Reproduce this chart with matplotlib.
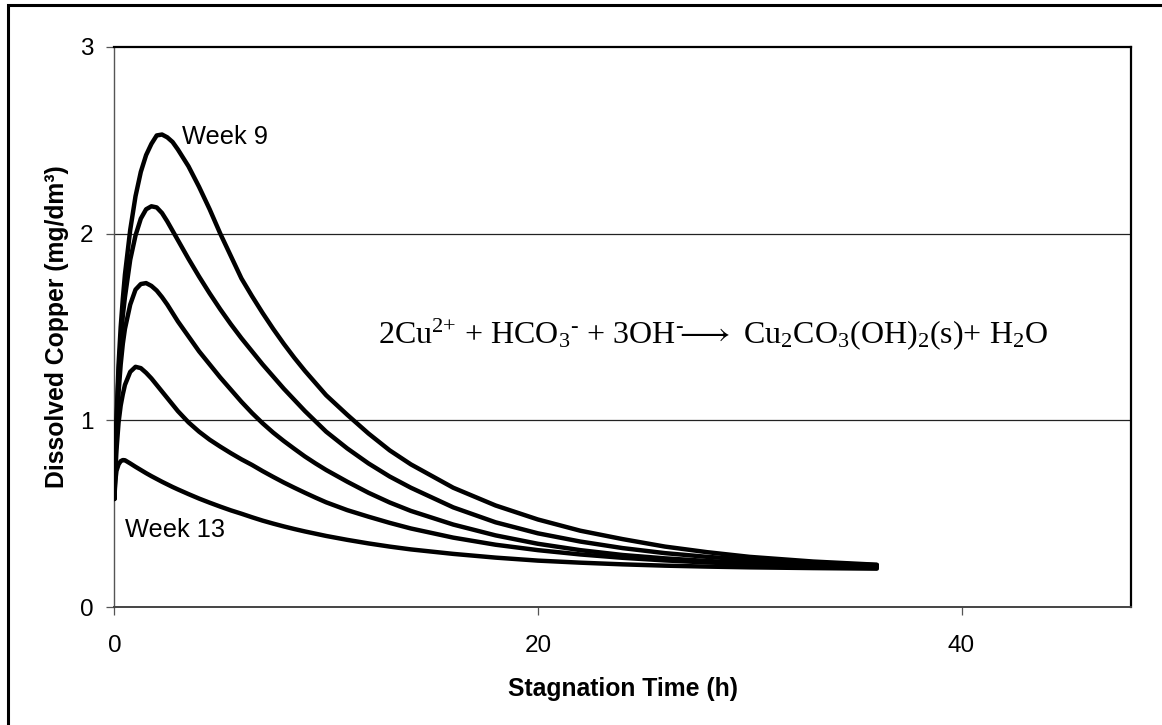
import matplotlib
matplotlib.use('Agg')
import matplotlib.pyplot as plt
from matplotlib.patches import Rectangle

plt.rcParams['font.family'] = ['Liberation Sans', 'DejaVu Sans']
plt.rcParams['mathtext.fontset'] = 'custom'
plt.rcParams['mathtext.rm'] = 'Liberation Serif'
plt.rcParams['mathtext.it'] = 'Liberation Serif'

# stagnation time (h) and dissolved copper (mg/dm3)
t = [0, 0.05, 0.1, 0.2, 0.3, 0.4, 0.5, 0.75, 1, 1.25, 1.5, 1.75, 2, 2.25, 2.5,
     2.75, 3, 3.5, 4, 4.5, 5, 5.5, 6, 6.5, 7, 7.5, 8, 8.5, 9, 9.5, 10,
     11, 12, 13, 14, 16, 18, 20, 22, 24, 26, 28, 30, 33, 36]
week9 = [0.58, 0.8, 1.0, 1.3, 1.5, 1.65, 1.78, 2.02, 2.2, 2.33, 2.42, 2.48, 2.525,
         2.53, 2.515, 2.49, 2.45, 2.36, 2.25, 2.13, 2.0, 1.88, 1.76, 1.665, 1.575,
         1.49, 1.41, 1.335, 1.265, 1.2, 1.135, 1.03, 0.93, 0.84, 0.765, 0.64,
         0.545, 0.47, 0.41, 0.365, 0.325, 0.295, 0.27, 0.245, 0.228]
week10 = [0.58, 0.78, 0.97, 1.25, 1.43, 1.56, 1.66, 1.86, 1.99, 2.08, 2.13, 2.146,
          2.14, 2.11, 2.065, 2.015, 1.965, 1.865, 1.77, 1.68, 1.595, 1.515, 1.44,
          1.37, 1.30, 1.235, 1.17, 1.11, 1.05, 0.995, 0.94, 0.85, 0.77, 0.70, 0.64,
          0.535, 0.455, 0.396, 0.352, 0.317, 0.29, 0.27, 0.255, 0.238, 0.226]
week11 = [0.58, 0.76, 0.93, 1.15, 1.3, 1.41, 1.49, 1.62, 1.70, 1.73, 1.735, 1.72,
          1.695, 1.66, 1.62, 1.575, 1.53, 1.45, 1.37, 1.30, 1.23, 1.165, 1.10,
          1.04, 0.985, 0.935, 0.89, 0.848, 0.807, 0.77, 0.735, 0.672, 0.613, 0.561,
          0.516, 0.443, 0.385, 0.34, 0.306, 0.28, 0.262, 0.248, 0.237, 0.225, 0.217]
week12 = [0.58, 0.72, 0.84, 0.99, 1.08, 1.14, 1.19, 1.26, 1.287, 1.28, 1.255, 1.225,
          1.19, 1.155, 1.12, 1.085, 1.05, 0.99, 0.94, 0.897, 0.86, 0.825, 0.792,
          0.762, 0.729, 0.698, 0.668, 0.64, 0.613, 0.587, 0.562, 0.52, 0.485, 0.452,
          0.422, 0.373, 0.335, 0.306, 0.283, 0.265, 0.251, 0.24, 0.232, 0.222, 0.216]
week13 = [0.58, 0.68, 0.73, 0.765, 0.782, 0.788, 0.787, 0.77, 0.752, 0.735, 0.718,
          0.702, 0.687, 0.672, 0.658, 0.644, 0.631, 0.606, 0.582, 0.56, 0.539, 0.519,
          0.501, 0.482, 0.464, 0.448, 0.433, 0.419, 0.406, 0.394, 0.382, 0.361,
          0.342, 0.325, 0.31, 0.286, 0.266, 0.25, 0.239, 0.23, 0.223, 0.218, 0.214,
          0.21, 0.207]
curves = [week9, week10, week11, week12, week13]

fig = plt.figure(figsize=(11.62, 7.25), dpi=100)
ax = fig.add_axes([0.0984, 0.1623, 0.8749, 0.7733])

for y in curves:
    ax.plot(t, y, color='black', linewidth=3.2, solid_capstyle='round',
            solid_joinstyle='round', zorder=3)

ax.set_xlim(0, 48)
ax.set_ylim(0, 3)
ax.set_xticks([0, 20, 40])
ax.set_yticks([0, 1, 2, 3])

# gridlines at 1 and 2 only
for g in [1, 2]:
    ax.axhline(g, color='#222222', linewidth=0.9, zorder=1)

ax.spines['top'].set_color('black')
ax.spines['top'].set_linewidth(1.6)
ax.spines['right'].set_color('black')
ax.spines['right'].set_linewidth(1.6)
ax.spines['left'].set_color('#555555')
ax.spines['left'].set_linewidth(1.0)
ax.spines['bottom'].set_color('#444444')
ax.spines['bottom'].set_linewidth(1.4)

ax.tick_params(axis='both', direction='out', length=6, width=0.9,
               color='#555555', labelsize=17.5)
ax.tick_params(axis='y', pad=9)
ax.tick_params(axis='x', pad=14)

ax.set_xlabel('Stagnation Time (h)', fontsize=17.8, fontweight='bold', labelpad=14)
ax.set_ylabel('Dissolved Copper (mg/dm³)', fontsize=17.8, fontweight='bold', labelpad=8)

ax.text(3.2, 2.515, 'Week 9', fontsize=18.3, ha='left', va='center')
ax.text(0.5, 0.413, 'Week 13', fontsize=18.3, ha='left', va='center')

eq = (r'2Cu$^{2{+}}$ + HCO$_3$$^{\text{-}}$ + 3OH$^{\text{-}}\!\!\longrightarrow$ '
      r'Cu$_2$CO$_3$(OH)$_2$(s)+ H$_2$O')
ax.text(12.45, 1.414, eq, fontsize=23, family=['Liberation Serif', 'DejaVu Serif'],
        ha='left', va='baseline')

# outer chart frame (cut at right and bottom edges)
frame = Rectangle((8 / 1162, -0.05), 1.2, 1 - 5.3 / 725 + 0.05,
                  transform=fig.transFigure, fill=False,
                  edgecolor='black', linewidth=2.2)
fig.patches.append(frame)

plt.savefig('out.png', dpi=100)
